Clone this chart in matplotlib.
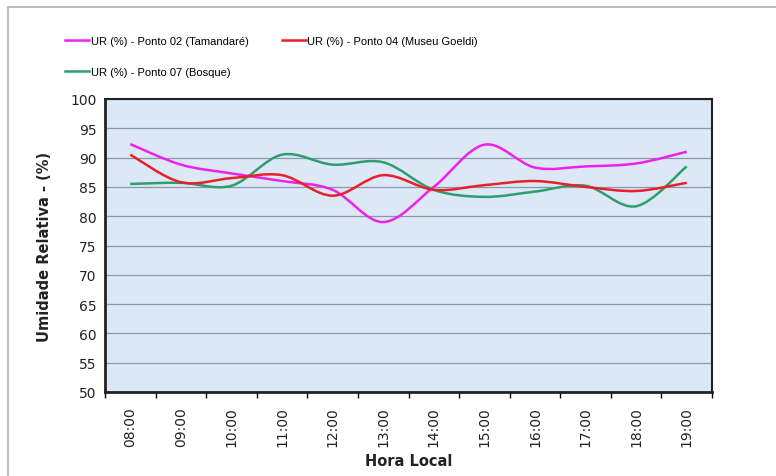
import numpy as np
import matplotlib.pyplot as plt
from matplotlib.path import Path
from matplotlib.patches import PathPatch, Rectangle
from matplotlib.lines import Line2D

plt.rcParams['font.family'] = ['Liberation Sans', 'DejaVu Sans']

horas = ["08:00", "09:00", "10:00", "11:00", "12:00", "13:00",
         "14:00", "15:00", "16:00", "17:00", "18:00", "19:00"]
ur_tamandare = [92.3, 88.8, 87.3, 86.0, 84.5, 79.0, 85.0, 92.2, 88.3, 88.5, 89.0, 91.0]
ur_goeldi = [90.5, 85.8, 86.5, 87.0, 83.5, 87.0, 84.5, 85.3, 86.0, 85.0, 84.3, 85.7]
ur_bosque = [85.5, 85.7, 85.2, 90.5, 88.8, 89.2, 84.5, 83.3, 84.2, 85.2, 81.7, 88.5]

# order gives row-major legend: Tamandare, Goeldi / Bosque
series = [
    ("UR (%) - Ponto 02 (Tamandaré)", ur_tamandare, "#ee22ee"),
    ("UR (%) - Ponto 07 (Bosque)", ur_bosque, "#2e9e6e"),
    ("UR (%) - Ponto 04 (Museu Goeldi)", ur_goeldi, "#e8202a"),
]


def smooth_path(x, y, t=1/6):
    # Excel-like smoothed line: cubic Bezier with Catmull-Rom control points
    x = np.asarray(x, float)
    y = np.asarray(y, float)
    verts = [(x[0], y[0])]
    codes = [Path.MOVETO]
    n = len(x)
    for i in range(n - 1):
        x0, y0 = (x[i - 1], y[i - 1]) if i > 0 else (x[i], y[i])
        x3, y3 = (x[i + 2], y[i + 2]) if i + 2 < n else (x[i + 1], y[i + 1])
        c1 = (x[i] + (x[i + 1] - x0) * t, y[i] + (y[i + 1] - y0) * t)
        c2 = (x[i + 1] - (x3 - x[i]) * t, y[i + 1] - (y3 - y[i]) * t)
        verts += [c1, c2, (x[i + 1], y[i + 1])]
        codes += [Path.CURVE4] * 3
    return Path(verts, codes)


fig = plt.figure(figsize=(7.76, 4.77), dpi=100)
fig.patches.append(Rectangle((8 / 776, -0.05), 1.1, 1 - 8 / 477 + 0.05,
                             transform=fig.transFigure, fill=False,
                             edgecolor="#bdbdbd", linewidth=1.5))

ax = fig.add_axes([105 / 776, 1 - 393 / 477, 607 / 776, 293 / 477])
ax.set_facecolor("#dce8f6")

xs = np.arange(len(horas))
handles = []
for label, vals, color in series:
    ax.add_patch(PathPatch(smooth_path(xs, vals), fill=False, edgecolor=color,
                           linewidth=1.8, zorder=3))
    handles.append(Line2D([], [], color=color, linewidth=1.8, label=label))

tick_font = dict(family="DejaVu Sans", size=10, color="#222222")
ax.set_xlim(-0.5, len(horas) - 0.5)
ax.set_ylim(50, 100)
ax.set_yticks(np.arange(50, 101, 5))
ax.set_yticklabels([str(v) for v in range(50, 101, 5)], fontdict=tick_font)
ax.set_xticks(xs)
ax.set_xticklabels(horas, rotation=90, fontdict=tick_font)
ax.set_xticks(np.arange(-0.5, len(horas), 1), minor=True)
ax.tick_params(axis="x", which="major", length=0, pad=10)
ax.tick_params(axis="x", which="minor", length=4, direction="out", width=1)
ax.tick_params(axis="y", length=0, pad=6)
ax.grid(axis="y", color="#8a98ac", linewidth=0.9)
ax.set_axisbelow(True)
for s in ax.spines.values():
    s.set_linewidth(1.5)
    s.set_color("#222222")
ax.spines["left"].set_linewidth(2)
ax.spines["bottom"].set_linewidth(2)

ax.set_ylabel("Umidade Relativa - (%)", family="DejaVu Sans", fontsize=10.5,
              fontweight="bold", color="#222222", labelpad=13)
ax.set_xlabel("Hora Local", family="DejaVu Sans", fontsize=10.5,
              fontweight="bold", color="#222222", labelpad=5)

fig.legend(handles=handles, loc="upper left", bbox_to_anchor=(55 / 776, 1 - 27 / 477),
           ncol=2, frameon=False, fontsize=8, handlelength=2.2, handletextpad=0.1,
           columnspacing=3.0, labelspacing=1.9)

fig.savefig("out.png", dpi=100, facecolor="white")
